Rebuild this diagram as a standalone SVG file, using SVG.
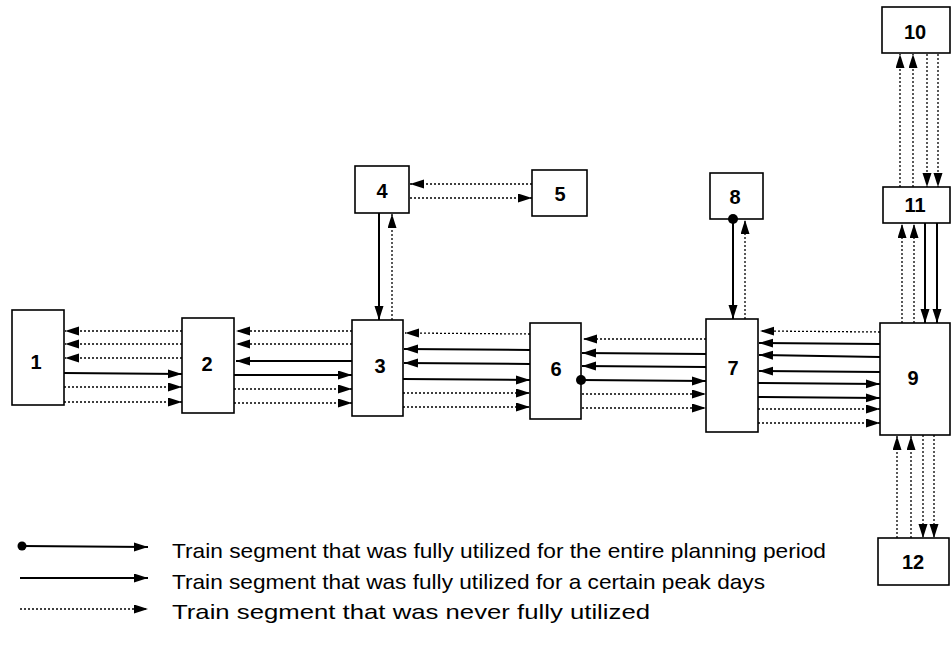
<svg xmlns="http://www.w3.org/2000/svg" width="952" height="650" viewBox="0 0 952 650">
<defs>
<style>
.box{fill:#fff;stroke:#000;stroke-width:1.6}
.lbl{font-family:"Liberation Sans",Arial,sans-serif;font-weight:bold;font-size:20px;text-anchor:middle;fill:#000}
.sol{stroke:#000;stroke-width:2;fill:none;marker-end:url(#ah)}
.dot{stroke:#000;stroke-width:1.3;stroke-dasharray:2 2;fill:none;marker-end:url(#ah)}
.leg{font-family:"Liberation Sans",Arial,sans-serif;font-size:21px;fill:#000}
</style>
<marker id="ah" markerUnits="userSpaceOnUse" markerWidth="15" markerHeight="10" refX="14" refY="4.5" orient="auto" viewBox="0 0 15 10">
<path d="M0,0 L14,4.5 L0,9 z" fill="#000"/>
</marker>
</defs>
<rect width="952" height="650" fill="#fff"/>
<g id="n1"><rect class="box" x="12" y="310" width="52" height="95"/><text class="lbl" x="36" y="369">1</text></g>
<g id="n2"><rect class="box" x="182" y="318" width="52" height="95"/><text class="lbl" x="207" y="371">2</text></g>
<g id="n3"><rect class="box" x="352" y="320" width="51" height="96"/><text class="lbl" x="380" y="373">3</text></g>
<g id="n4"><rect class="box" x="355" y="166" width="54" height="47"/><text class="lbl" x="382" y="198">4</text></g>
<g id="n5"><rect class="box" x="532" y="170" width="55" height="46"/><text class="lbl" x="560" y="201">5</text></g>
<g id="n6"><rect class="box" x="530" y="323" width="51" height="96"/><text class="lbl" x="556" y="376">6</text></g>
<g id="n7"><rect class="box" x="706" y="319" width="52" height="113"/><text class="lbl" x="733" y="375">7</text></g>
<g id="n8"><rect class="box" x="710" y="173" width="53" height="46"/><text class="lbl" x="735" y="204">8</text></g>
<g id="n9"><rect class="box" x="880" y="323" width="70" height="112"/><text class="lbl" x="913" y="385">9</text></g>
<g id="n10"><rect class="box" x="882" y="7" width="68" height="46"/><text class="lbl" x="915" y="39">10</text></g>
<g id="n11"><rect class="box" x="883" y="187" width="67" height="36"/><text class="lbl" x="915" y="212">11</text></g>
<g id="n12"><rect class="box" x="878" y="538" width="71" height="47"/><text class="lbl" x="913" y="569">12</text></g>
<g id="connectors">
<!-- 1-2 -->
<path class="dot" d="M182,331 L65,331"/>
<path class="dot" d="M182,344 L65,344"/>
<path class="dot" d="M182,358 L65,358"/>
<path class="sol" d="M64,373 L182,374"/>
<path class="dot" d="M64,387 L182,387"/>
<path class="dot" d="M64,402 L182,402"/>
<!-- 2-3 -->
<path class="dot" d="M352,331 L236,331"/>
<path class="dot" d="M352,344 L236,344"/>
<path class="sol" d="M352,361 L236,361"/>
<path class="sol" d="M234,375 L352,375"/>
<path class="dot" d="M234,389 L352,389"/>
<path class="dot" d="M234,403 L352,403"/>
<!-- 3-6 -->
<path class="dot" d="M530,334 L405,333"/>
<path class="sol" d="M530,350 L404,349"/>
<path class="sol" d="M530,364 L404,363"/>
<path class="sol" d="M403,379 L530,380"/>
<path class="dot" d="M403,393 L530,393"/>
<path class="dot" d="M403,407 L530,407"/>
<!-- 6-7 -->
<path class="dot" d="M706,339 L583,339"/>
<path class="sol" d="M706,354 L582,353"/>
<path class="sol" d="M706,367 L582,366"/>
<path class="sol" d="M581,380 L706,381"/>
<circle cx="581" cy="380" r="5" fill="#000"/>
<path class="dot" d="M582,394 L706,394"/>
<path class="dot" d="M582,408 L706,408"/>
<!-- 7-9 -->
<path class="dot" d="M880,332 L760,331"/>
<path class="sol" d="M880,344 L759,343"/>
<path class="sol" d="M880,357 L759,355"/>
<path class="sol" d="M880,372 L759,371"/>
<path class="sol" d="M758,383 L880,384"/>
<path class="sol" d="M758,397 L880,398"/>
<path class="dot" d="M758,409 L880,409"/>
<path class="dot" d="M758,423 L880,423"/>
<!-- 4-3 -->
<path class="sol" d="M379,213 L379,320"/>
<path class="dot" d="M392,320 L392,214"/>
<!-- 4-5 -->
<path class="dot" d="M532,184 L410,184"/>
<path class="dot" d="M410,198 L532,198"/>
<!-- 8-7 -->
<path class="sol" d="M733,219 L733,319"/>
<circle cx="733" cy="219" r="5" fill="#000"/>
<path class="dot" d="M745,319 L745,220"/>
<!-- 10-11 -->
<path class="dot" d="M900,187 L900,54"/>
<path class="dot" d="M913,187 L913,54"/>
<path class="dot" d="M927,54 L927,187"/>
<path class="dot" d="M938,54 L938,187"/>
<!-- 11-9 -->
<path class="dot" d="M902,323 L902,224"/>
<path class="dot" d="M914,323 L914,224"/>
<path class="sol" d="M925,223 L925,323"/>
<path class="sol" d="M937,223 L937,323"/>
<!-- 9-12 -->
<path class="dot" d="M897,538 L897,436"/>
<path class="dot" d="M911,538 L911,436"/>
<path class="dot" d="M923,435 L923,538"/>
<path class="dot" d="M934,435 L934,538"/>
</g>
<g id="legend">
<path class="sol" d="M22,546 L148,547" stroke-width="1.6"/>
<circle cx="22" cy="546" r="4.5" fill="#000"/>
<path class="sol" d="M20,578 L148,578" stroke-width="1.6"/>
<path class="dot" d="M20,609 L148,609" stroke-width="1"/>
<text class="leg" x="172" y="558" textLength="654" lengthAdjust="spacingAndGlyphs">Train segment that was fully utilized for the entire planning period</text>
<text class="leg" x="172" y="589" textLength="593" lengthAdjust="spacingAndGlyphs">Train segment that was fully utilized for a certain peak days</text>
<text class="leg" x="172" y="619" textLength="478" lengthAdjust="spacingAndGlyphs">Train segment that was never fully utilized</text>
</g>
</svg>
